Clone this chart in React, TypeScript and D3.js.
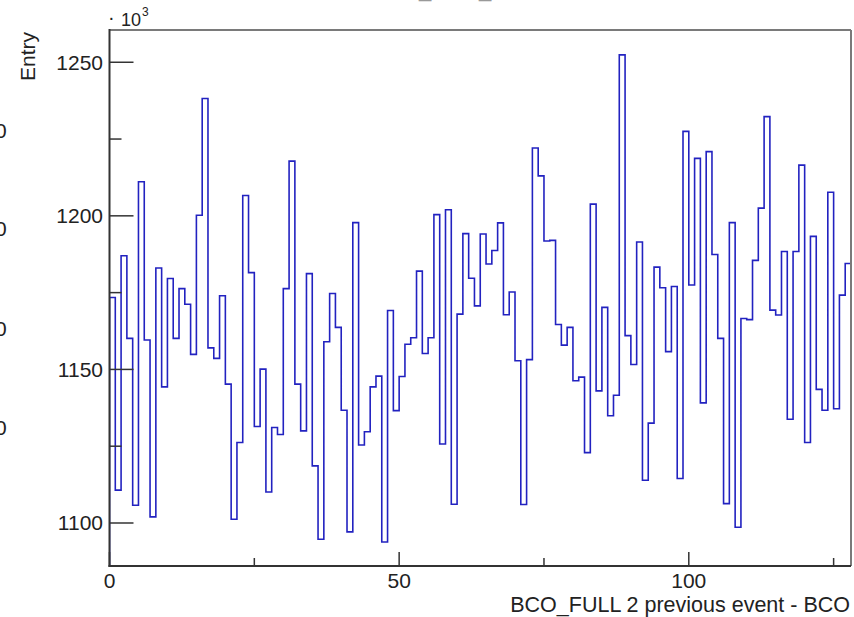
import React from "react";
import * as d3 from "d3";

const binEdges = { min: 0, max: 128 };
const binValues: number[] = [
  1173.4, 1110.7, 1187.0, 1160.1, 1105.8, 1211.1, 1159.6, 1102.0, 1183.0, 1144.3,
  1179.6, 1160.1, 1176.3, 1171.2, 1154.9, 1200.2, 1238.2, 1157.0, 1153.6, 1174.0,
  1145.2, 1101.2, 1126.2, 1206.6, 1181.5, 1131.4, 1150.1, 1110.1, 1131.1, 1128.8,
  1176.3, 1217.8, 1145.2, 1130.0, 1181.2, 1118.6, 1094.7, 1159.0, 1174.7, 1163.7,
  1136.7, 1097.1, 1197.8, 1125.4, 1129.7, 1144.3, 1147.8, 1093.8, 1169.2, 1136.6,
  1147.7, 1158.2, 1160.3, 1182.0, 1155.2, 1160.3, 1200.4, 1125.7, 1202.0, 1106.1,
  1168.0, 1194.2, 1179.7, 1170.7, 1194.1, 1184.3, 1188.7, 1197.7, 1167.8, 1175.2,
  1152.8, 1106.0, 1153.2, 1222.1, 1213.0, 1191.8, 1192.0, 1164.6, 1157.9, 1163.7,
  1146.3, 1147.5, 1122.9, 1203.8, 1143.0, 1170.2, 1134.9, 1141.6, 1252.4, 1161.0,
  1151.6, 1191.5, 1113.9, 1132.5, 1183.3, 1176.6, 1155.8, 1177.0, 1114.5, 1227.5,
  1177.5, 1218.7, 1139.1, 1220.9, 1187.4, 1160.1, 1106.3, 1197.8, 1098.6, 1166.6,
  1166.2, 1185.5, 1202.5, 1232.3, 1169.3, 1167.7, 1188.4, 1133.8, 1188.4, 1216.5,
  1126.2, 1193.3, 1143.5, 1136.7, 1207.7, 1137.2, 1174.2, 1184.5,
];
const yDomain: [number, number] = [1086, 1260.5];
const yMajorTicks = [1100, 1150, 1200, 1250];
const yMinorTicks = [1125, 1175, 1225];
const xMajorTicks = [0, 50, 100];
const xMinorTicks = [25, 75, 125];
const xTitle = "BCO_FULL 2 previous event - BCO";
const yTitle = "Entry";
const leftFragments = [130, 228, 328, 427];

const W = 854;
const H = 617;
const left = 109.5;
const right = 851;
const top = 30;
const bottom = 566;
const FONT = "'Liberation Sans', Arial, Helvetica, sans-serif";

export default function App() {
  const x = d3.scaleLinear().domain([binEdges.min, binEdges.max]).range([left, right]);
  const y = d3.scaleLinear().domain(yDomain).range([bottom, top]);

  const pts: [number, number][] = [];
  pts.push([x(0), bottom]);
  binValues.forEach((v, i) => {
    pts.push([x(i), y(v)]);
    pts.push([x(i + 1), y(v)]);
  });
  pts.push([x(binValues.length), bottom]);
  const path = d3.line()(pts) || "";

  return (
    <div style={{ position: "fixed", left: 0, top: 0 }}>
      <svg width={W} height={H} style={{ display: "block", background: "#fff" }}>
        <defs>
          <clipPath id="plotclip">
            <rect x={left} y={top} width={right - left} height={bottom - top} />
          </clipPath>
        </defs>
        {/* cut-off fragments from neighbouring pad */}
        {leftFragments.map((cy, i) => (
          <text key={i} x={-5} y={cy + 7.5} fontFamily={FONT} fontSize={21} fill="#222">0</text>
        ))}
        <text x={419} y={-3} fontFamily={FONT} fontSize={22} fill="#999">_</text>
        <text x={479} y={-3} fontFamily={FONT} fontSize={22} fill="#999">_</text>

        <path d={path} fill="none" stroke="#2222c0" strokeWidth={1.6} clipPath="url(#plotclip)" />

        {/* frame */}
        <line x1={left} x2={right} y1={top} y2={top} stroke="#7a7a7a" strokeWidth={2} />
        <line x1={right} x2={right} y1={top} y2={bottom} stroke="#7a7a7a" strokeWidth={2} />
        <line x1={left} x2={left} y1={top - 1} y2={bottom + 1} stroke="#333" strokeWidth={2} />
        <line x1={left - 1} x2={right} y1={bottom} y2={bottom} stroke="#333" strokeWidth={2} />

        {/* y ticks */}
        {yMajorTicks.map((t) => (
          <g key={"ym" + t}>
            <line x1={left} x2={left + 24} y1={y(t)} y2={y(t)} stroke="#333" strokeWidth={1.5} />
            <text x={103} y={y(t) + 7.5} textAnchor="end" fontFamily={FONT} fontSize={21} fill="#222">{t}</text>
          </g>
        ))}
        {yMinorTicks.map((t) => (
          <line key={"yn" + t} x1={left} x2={left + 12} y1={y(t)} y2={y(t)} stroke="#333" strokeWidth={1.5} />
        ))}

        {/* x ticks */}
        {xMajorTicks.map((t) => (
          <g key={"xm" + t}>
            <line x1={x(t)} x2={x(t)} y1={bottom} y2={bottom - 14} stroke="#333" strokeWidth={1.5} />
            <text x={x(t)} y={588} textAnchor="middle" fontFamily={FONT} fontSize={21} fill="#222">{t}</text>
          </g>
        ))}
        {xMinorTicks.map((t) => (
          <line key={"xn" + t} x1={x(t)} x2={x(t)} y1={bottom} y2={bottom - 8} stroke="#333" strokeWidth={1.5} />
        ))}

        {/* exponent */}
        <text x={108} y={24} fontFamily={FONT} fontSize={20} fill="#222">·</text>
        <text x={121} y={26} fontFamily={FONT} fontSize={18} fill="#222">10</text>
        <text x={142} y={16} fontFamily={FONT} fontSize={12} fill="#222">3</text>

        {/* titles */}
        <text x={850} y={612} textAnchor="end" fontFamily={FONT} fontSize={21.5} fill="#222">{xTitle}</text>
        <text transform="translate(35,32) rotate(-90)" textAnchor="end" fontFamily={FONT} fontSize={21} fill="#222">{yTitle}</text>
      </svg>
    </div>
  );
}
